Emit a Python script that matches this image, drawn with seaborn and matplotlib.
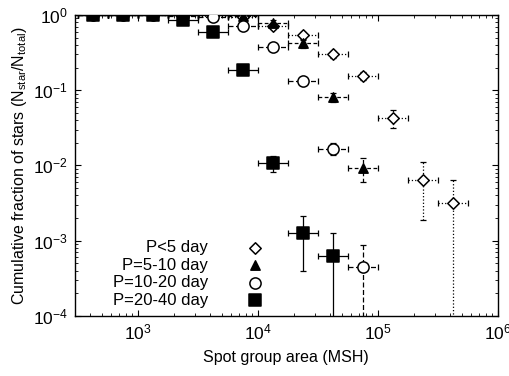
import numpy as np
import seaborn as sns
import pandas as pd
import matplotlib.pyplot as plt
from matplotlib.ticker import LogLocator, NullFormatter

# bin centres and edges (quarter decade bins), MSH
centers = [422, 750, 1334, 2371, 4217, 7499, 13335, 23714, 42170, 74989, 133352, 237137, 421697]
edges = [316, 562, 1000, 1778, 3162, 5623, 10000, 17783, 31623, 56234, 100000, 177828, 316228, 562341]

labels = ["P<5 day", "P=5-10 day", "P=10-20 day", "P=20-40 day"]

frac_p5 = [1.0, 1.0, 1.0, 1.0, 0.97, 0.93, 0.71, 0.54, 0.30, 0.155, 0.043, 0.0065, 0.0032]
err_p5 = [0.0, 0.0, 0.0, 0.0, 0.02, 0.04, 0.06, 0.06, 0.035, 0.02, 0.012, 0.0046, 0.00319]

frac_p10 = [1.0, 1.0, 1.0, 1.0, 1.0, 0.97, 0.79, 0.42, 0.081, 0.0093]
err_p10 = [0.0, 0.0, 0.0, 0.0, 0.0, 0.03, 0.06, 0.05, 0.012, 0.0032]

frac_p20 = [1.0, 1.0, 1.0, 0.98, 0.94, 0.71, 0.376, 0.133, 0.0166, 0.00044]
err_p20 = [0.0, 0.0, 0.0, 0.01, 0.02, 0.03, 0.03, 0.015, 0.003, 0.000439]

frac_p40 = [1.0, 1.0, 1.0, 0.86, 0.59, 0.186, 0.0108, 0.00127, 0.00063]
err_p40 = [0.0, 0.0, 0.0, 0.02, 0.03, 0.02, 0.0027, 0.00088, 0.000629]

series = [
    (labels[0], frac_p5, err_p5, 'D', 'white', ':', 34),
    (labels[1], frac_p10, err_p10, '^', 'black', (0, (3, 2)), 45),
    (labels[2], frac_p20, err_p20, 'o', 'white', (0, (4, 2)), 65),
    (labels[3], frac_p40, err_p40, 's', 'black', '-', 65),
]

sns.set_style("ticks")
plt.rcParams['font.family'] = ['Liberation Sans', 'DejaVu Sans']
plt.rcParams['mathtext.fontset'] = 'custom'
plt.rcParams['mathtext.rm'] = 'Liberation Sans'
plt.rcParams['mathtext.it'] = 'Liberation Sans'
plt.rcParams['text.color'] = 'black'
plt.rcParams['axes.labelcolor'] = 'black'

fig = plt.figure(figsize=(5.1, 3.76), dpi=100)
ax = fig.add_axes([0.147, 0.16, 0.829, 0.80])

for lab, y, yerr, mk, fc, ls, sz in series:
    n = len(y)
    x = np.array(centers[:n])
    lo = x - np.array(edges[:n])
    hi = np.array(edges[1:n + 1]) - x
    eb = ax.errorbar(x, y, xerr=[lo, hi], yerr=yerr, fmt='none', ecolor='black',
                     elinewidth=0.9, capsize=2, capthick=0.9, zorder=2)
    for lc in eb[2]:
        lc.set_linestyle(ls)
    df = pd.DataFrame({'area': x, 'frac': y})
    sns.scatterplot(data=df, x='area', y='frac', marker=mk, s=sz, color=fc,
                    edgecolor='black', linewidth=1.1, label=lab, ax=ax, zorder=3)

ax.set_xscale('log')
ax.set_yscale('log')
ax.set_xlim(300, 1e6)
ax.set_ylim(1e-4, 1.0)
ax.xaxis.set_major_locator(LogLocator(base=10, numticks=10))
ax.xaxis.set_minor_locator(LogLocator(base=10, subs=np.arange(2, 10), numticks=20))
ax.xaxis.set_minor_formatter(NullFormatter())
ax.tick_params(which='both', direction='in', top=True, right=True, labelsize=12.5, colors='black')
ax.tick_params(which='major', length=4, width=0.8, pad=5)
ax.tick_params(which='minor', length=2, width=0.6)
for s in ax.spines.values():
    s.set_linewidth(1.0)
    s.set_color('black')

ax.set_xlabel('Spot group area (MSH)', fontsize=11.5, labelpad=5)
ax.set_ylabel('Cumulative fraction of stars (N$_{star}$/N$_{total}$)', fontsize=11.5, labelpad=3)

ax.legend(loc='lower left', markerfirst=False, frameon=False, fontsize=12,
          handletextpad=1.8, labelspacing=0.15, borderaxespad=0.1,
          bbox_to_anchor=(0.07, 0.0))

fig.savefig('out.png', dpi=100)
